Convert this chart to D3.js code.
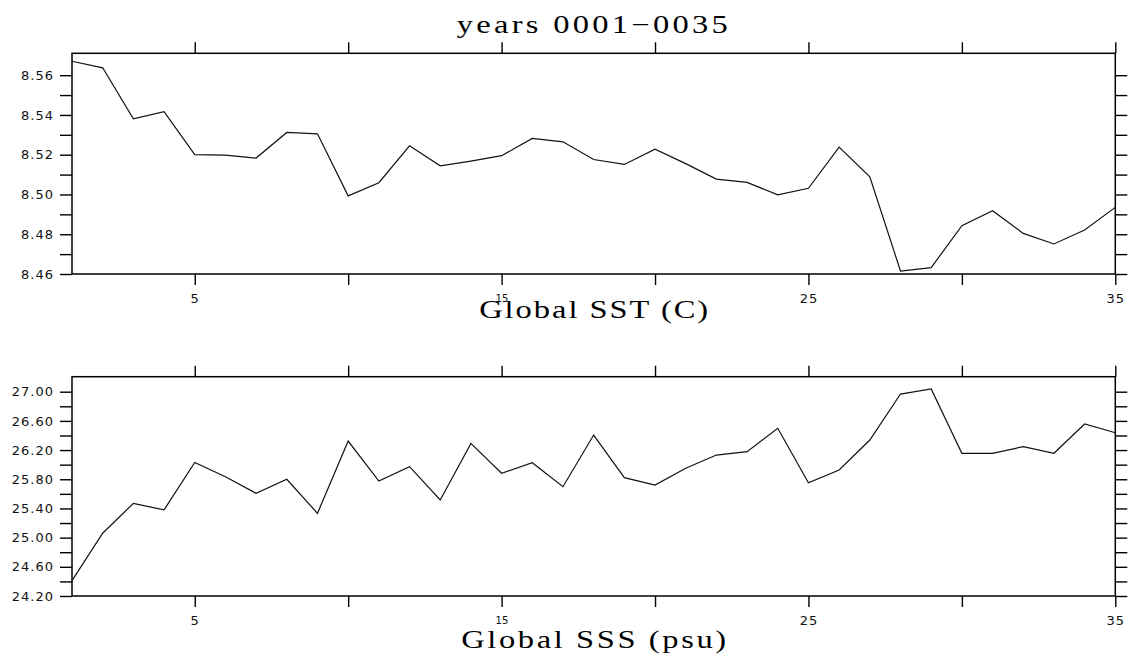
<!DOCTYPE html>
<html>
<head>
<meta charset="utf-8">
<script src="https://cdn.jsdelivr.net/npm/d3@7"></script>
<style>
  html, body { margin: 0; padding: 0; background: #fff; }
  svg { display: block; }
</style>
</head>
<body>
<svg id="chart" width="1131" height="660"></svg>
<script>
// ---- data ----
const years = [1,2,3,4,5,6,7,8,9,10,11,12,13,14,15,16,17,18,19,20,21,22,23,24,25,26,27,28,29,30,31,32,33,34,35];
const sst = [8.567, 8.5637, 8.538, 8.5416, 8.520, 8.5198, 8.5183, 8.5312, 8.5305, 8.4993,
             8.5059, 8.5245, 8.5144, 8.5168, 8.5195, 8.5282, 8.5265, 8.5176, 8.5151, 8.5228,
             8.5155, 8.5077, 8.5061, 8.4998, 8.5031, 8.5238, 8.5089, 8.4615, 8.4632, 8.4843,
             8.4918, 8.4804, 8.4751, 8.4821, 8.4935];
const sss = [24.41, 25.06, 25.47, 25.38, 26.03, 25.835, 25.607, 25.80, 25.333, 26.324,
             25.776, 25.972, 25.516, 26.292, 25.882, 26.027, 25.698, 26.406, 25.822, 25.721,
             25.95, 26.132, 26.178, 26.498, 25.753, 25.927, 26.338, 26.968, 27.037, 26.156,
             26.156, 26.247, 26.156, 26.557, 26.438];
const xTicks = [5, 10, 15, 20, 25, 30, 35];
const xTickLabels = ["5", "", "15", "", "25", "", "35"];
const sstTicks = [8.46, 8.48, 8.50, 8.52, 8.54, 8.56];
const sstMinor = [8.47, 8.49, 8.51, 8.53, 8.55];
const sssTicks = [24.2, 24.6, 25.0, 25.4, 25.8, 26.2, 26.6, 27.0];
const sssMinor = [24.4, 24.8, 25.2, 25.6, 26.0, 26.4, 26.8];
const title = "years 0001\u22120035";
const sstTitle = "Global SST (C)";
const sssTitle = "Global SSS (psu)";

// ---- layout ----
const svg = d3.select("#chart");
const left = 72, right = 1115.3;
const x = d3.scaleLinear().domain([1, 35]).range([left, right]);
const serif = "'Liberation Serif', 'DejaVu Serif', serif";
const stretch = 1.3;

function wideText(cx, y, len, size, txt) {
  svg.append("text")
    .attr("transform", `translate(${cx},${y}) scale(${stretch},1)`)
    .attr("x", 0).attr("y", 0)
    .attr("text-anchor", "middle")
    .attr("textLength", len / stretch).attr("lengthAdjust", "spacing")
    .style("font-family", serif)
    .style("font-size", size + "px").attr("fill", "#000")
    .text(txt);
}

function panel(cfg) {
  const y = d3.scaleLinear().domain(cfg.domain).range([cfg.bottom, cfg.top]);
  const g = svg.append("g");
  const allY = cfg.major.concat(cfg.minor);
  const fmt = d => cfg.major.some(m => Math.abs(m - d) < 1e-9) ? d3.format(".2f")(d) : "";

  const la = g.append("g").attr("transform", `translate(${left},0)`)
    .call(d3.axisLeft(y).tickValues(allY).tickSize(12).tickPadding(6).tickFormat(fmt));
  const ra = g.append("g").attr("transform", `translate(${right},0)`)
    .call(d3.axisRight(y).tickValues(allY).tickSize(12).tickFormat(""));
  const ba = g.append("g").attr("transform", `translate(0,${cfg.bottom})`)
    .call(d3.axisBottom(x).tickValues(xTicks).tickSize(11)
      .tickFormat((d, i) => xTickLabels[i]));
  const ta = g.append("g").attr("transform", `translate(0,${cfg.top})`)
    .call(d3.axisTop(x).tickValues(xTicks).tickSize(11).tickFormat(""));

  [la, ra, ba, ta].forEach(a => {
    a.select(".domain").remove();
    a.selectAll(".tick line").attr("stroke", "#000").attr("stroke-width", 1.4);
    a.selectAll(".tick text").attr("fill", "#111")
      .style("font-family", "'DejaVu Sans', sans-serif")
      .style("font-size", "13px").style("letter-spacing", "1px");
  });
  ba.selectAll(".tick text").attr("dy", null).attr("y", 28.8);
  ba.selectAll(".tick text").filter(d => d === 15)
    .style("font-size", "10px").style("letter-spacing", "0.3px").attr("y", 28);

  g.append("rect")
    .attr("x", left).attr("y", cfg.top)
    .attr("width", right - left).attr("height", cfg.bottom - cfg.top)
    .attr("fill", "none").attr("stroke", "#000").attr("stroke-width", 1.5);

  const line = d3.line().x((d, i) => x(years[i])).y(d => y(d));
  g.append("path").datum(cfg.values)
    .attr("d", line).attr("fill", "none")
    .attr("stroke", "#111").attr("stroke-width", 1.2).attr("stroke-linejoin", "miter");

  wideText((left + right) / 2, cfg.labelY, cfg.labelLen, 25, cfg.label);
}

panel({ top: 53.3, bottom: 274, domain: [8.46, 8.571], major: sstTicks, minor: sstMinor,
        values: sst, label: sstTitle, labelY: 317.5, labelLen: 229 });
panel({ top: 376.7, bottom: 596, domain: [24.2, 27.2056], major: sssTicks, minor: sssMinor,
        values: sss, label: sssTitle, labelY: 648.3, labelLen: 265 });

wideText(592.3, 33.3, 271, 25, title);
</script>
</body>
</html>
